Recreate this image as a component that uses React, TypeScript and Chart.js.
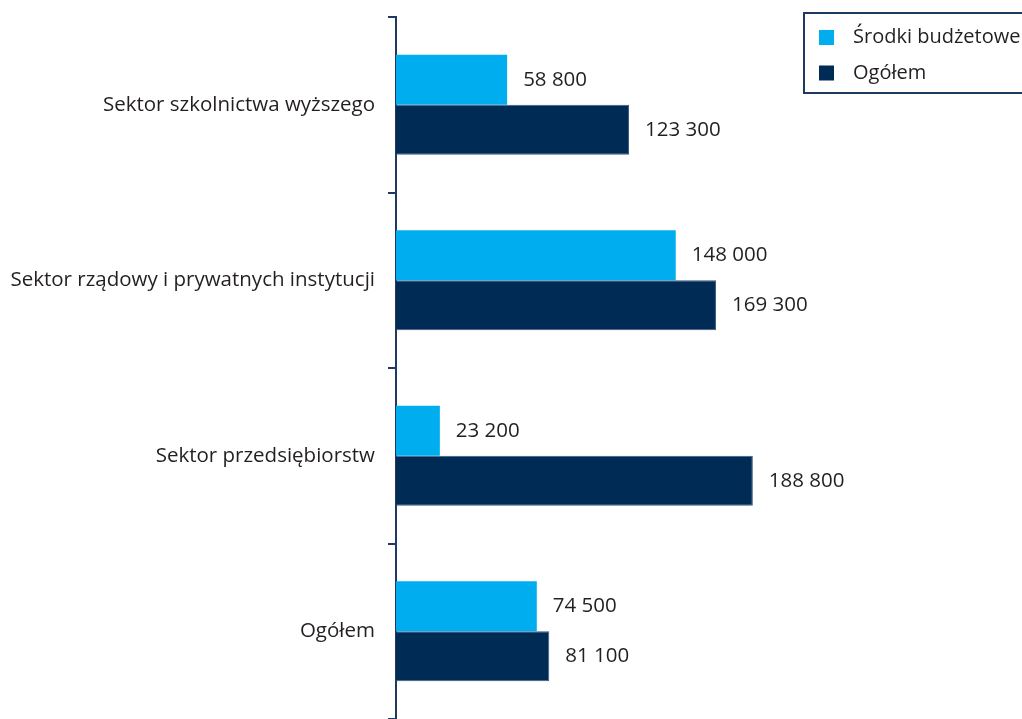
import React, { useEffect, useRef } from "react";
import { Chart, registerables } from "chart.js";

Chart.register(...registerables);

const categories = [
  "Sektor szkolnictwa wyższego",
  "Sektor rządowy i prywatnych instytucji",
  "Sektor przedsiębiorstw",
  "Ogółem",
];
const budgetValues = [58800, 148000, 23200, 74500];
const totalValues = [123300, 169300, 188800, 81100];
const seriesNames = ["Środki budżetowe", "Ogółem"];
const seriesColors = ["#00aeef", "#002b54"];

const FONT = "'Open Sans', Lato, sans-serif";
const TEXT = "#231f20";

const fmt = (v: number) =>
  String(v).replace(/\B(?=(\d{3})+(?!\d))/g, " ");

const labelPlugin = {
  id: "barLabels",
  afterDatasetsDraw(chart: any) {
    const ctx = chart.ctx;
    ctx.save();
    ctx.font = `20.5px ${FONT}`;
    ctx.fillStyle = TEXT;
    ctx.textAlign = "left";
    ctx.textBaseline = "middle";
    chart.data.datasets.forEach((ds: any, di: number) => {
      const meta = chart.getDatasetMeta(di);
      meta.data.forEach((bar: any, i: number) => {
        ctx.fillText(fmt(ds.data[i]), bar.x + 16, bar.y);
      });
    });
    ctx.restore();
  },
};

const legendPlugin = {
  id: "boxLegend",
  afterDraw(chart: any) {
    const ctx = chart.ctx;
    ctx.save();
    ctx.strokeStyle = "#1f3a5f";
    ctx.lineWidth = 2;
    ctx.strokeRect(804, 13, 240, 80);
    ctx.font = `20px ${FONT}`;
    ctx.textBaseline = "middle";
    ctx.textAlign = "left";
    const rows = [37.5, 73];
    seriesNames.forEach((name, i) => {
      ctx.fillStyle = seriesColors[i];
      ctx.fillRect(819, rows[i] - 7.5, 15, 15);
      ctx.fillStyle = TEXT;
      ctx.fillText(name, 853, rows[i]);
    });
    ctx.restore();
  },
};

export default function App() {
  const ref = useRef<HTMLCanvasElement>(null);
  useEffect(() => {
    if (!ref.current) return;
    const chart = new Chart(ref.current, {
      type: "bar",
      data: {
        labels: categories,
        datasets: [
          {
            label: seriesNames[0],
            data: budgetValues,
            backgroundColor: seriesColors[0],
            borderWidth: 0,
            barPercentage: 1,
            categoryPercentage: 0.57,
          },
          {
            label: seriesNames[1],
            data: totalValues,
            backgroundColor: seriesColors[1],
            borderColor: "#3b5a80",
            borderWidth: 1,
            barPercentage: 1,
            categoryPercentage: 0.57,
          },
        ],
      },
      options: {
        indexAxis: "y",
        animation: false,
        responsive: false,
        maintainAspectRatio: false,
        layout: { padding: { top: 17, right: 248, bottom: 0, left: 0 } },
        plugins: {
          legend: { display: false },
          tooltip: { enabled: false },
        },
        scales: {
          x: {
            display: false,
            min: 0,
            max: 200000,
          },
          y: {
            grid: {
              offset: true,
              drawOnChartArea: false,
              tickLength: 8,
              color: "#1f3a5f",
              lineWidth: 2,
            },
            border: { color: "#1f3a5f", width: 2 },
            ticks: {
              padding: 13,
              color: TEXT,
              font: { family: FONT, size: 20.5 },
            },
            afterFit: (scale: any) => {
              scale.width = 396;
              scale.paddingTop = 0;
              scale.paddingBottom = 0;
            },
          },
        },
      },
      plugins: [labelPlugin, legendPlugin],
    });
    return () => chart.destroy();
  }, []);
  return (
    <div style={{ position: "fixed", left: 0, top: 0, width: 1022, height: 719, background: "#fff" }}>
      <canvas ref={ref} width={1022} height={719} />
    </div>
  );
}
